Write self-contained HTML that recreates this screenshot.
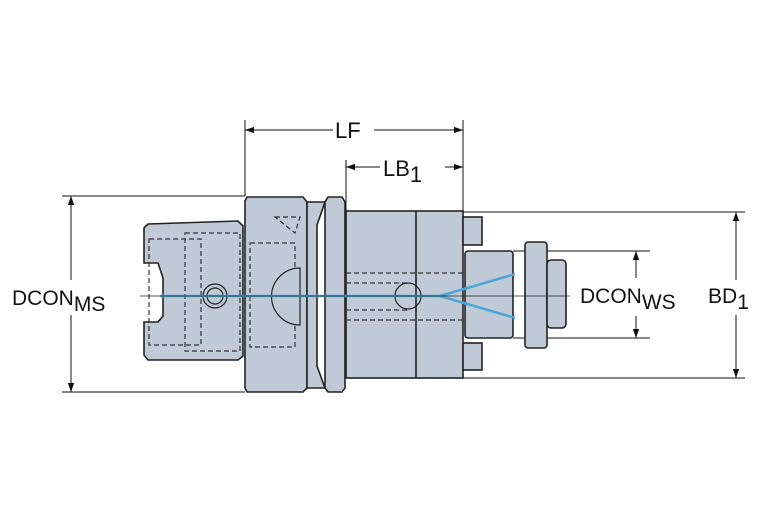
<!DOCTYPE html>
<html><head><style>body{margin:0;background:#fff}svg{display:block}text{font-family:"Liberation Sans",sans-serif;fill:#111}</style></head>
<body>
<svg width="767" height="523" viewBox="0 0 767 523" xmlns="http://www.w3.org/2000/svg">
<defs><marker id="a" viewBox="0 0 10 10" refX="10" refY="5" markerWidth="9" markerHeight="9" orient="auto-start-reverse"><path d="M0,1.5L10,5L0,8.5z" fill="#111"/></marker></defs>
<g stroke="#111" stroke-width="1" fill="none">
<line x1="245" y1="120" x2="245" y2="196"/><line x1="463" y1="120" x2="463" y2="211"/><line x1="346" y1="160" x2="346" y2="211"/>
<line x1="62" y1="196" x2="245" y2="196"/><line x1="62" y1="392" x2="245" y2="392"/>
<line x1="463" y1="212" x2="745" y2="212"/><line x1="463" y1="378" x2="745" y2="378"/>
<line x1="513" y1="251" x2="650" y2="251"/><line x1="513" y1="338" x2="650" y2="338"/>
<line x1="245" y1="130" x2="333" y2="130" marker-start="url(#a)"/><line x1="374" y1="130" x2="463" y2="130" marker-end="url(#a)"/>
<line x1="346" y1="167" x2="380" y2="167" marker-start="url(#a)"/><line x1="445" y1="167" x2="463" y2="167" marker-end="url(#a)"/>
<line x1="71" y1="196" x2="71" y2="280" marker-start="url(#a)"/><line x1="71" y1="315" x2="71" y2="392" marker-end="url(#a)"/>
<line x1="736" y1="212" x2="736" y2="280" marker-start="url(#a)"/><line x1="736" y1="315" x2="736" y2="378" marker-end="url(#a)"/>
<line x1="636" y1="251" x2="636" y2="278" marker-start="url(#a)"/><line x1="636" y1="316" x2="636" y2="338" marker-end="url(#a)"/>
</g>
<g stroke="#222" stroke-width="1.6" fill="#bfcad6">
<path d="M148,224 L238,221 L243,226 L243,356 L238,360 L148,360 L144,355 L144,322 L158,322 L163,316 L163,278 L158,263 L144,263 L144,228 Z"/>
<path d="M247,197 L303,197 L307,202 L307,388 L303,392 L247,392 L245,388 L245,201 Z"/>
<path d="M307,202 L325,202 L317,225 L317,366 L325,388 L307,388 Z"/>
<path d="M328,197 L342,197 L345,202 L345,388 L342,392 L328,392 L325,388 L325,202 Z"/>
<rect x="346" y="211" width="117" height="167"/>
<line x1="416" y1="211" x2="416" y2="378"/>
<rect x="463" y="217" width="19" height="28"/><rect x="463" y="343" width="19" height="27"/>
<rect x="465" y="251" width="48" height="87" rx="3"/>
<rect x="525" y="242" width="22" height="106" rx="3"/>
<rect x="547" y="260" width="19" height="68" rx="4"/>
</g>
<g stroke="#333" stroke-width="1.2" fill="none" stroke-dasharray="5,3">
<rect x="149" y="239" width="52" height="106"/><rect x="185" y="233" width="55" height="118"/>
<rect x="250" y="243" width="45" height="104"/><path d="M275,217 L300,217 L295,233 Z"/>
<path d="M346,273 L463,273 M346,320 L463,320 M346,283 L410,283 M346,310 L410,310"/>
</g>
<g stroke="#222" stroke-width="1.2" fill="#bfcad6">
<circle cx="215" cy="296" r="12"/><circle cx="215" cy="296" r="8"/>
<path d="M300,268 A28,28 0 0,0 300,325 Z"/>
<circle cx="408" cy="296" r="13" fill="none"/>
</g>
<g stroke="#4aa6d8" stroke-width="2.5" fill="none">
<line x1="160" y1="296" x2="440" y2="296"/><line x1="440" y1="296" x2="515" y2="274"/><line x1="440" y1="296" x2="515" y2="318"/>
</g>
<line x1="140" y1="296" x2="570" y2="296" stroke="#222" stroke-width="0.8"/>
<text x="335" y="138" font-size="22">LF</text>
<text x="383" y="176" font-size="22">LB<tspan dy="6">1</tspan></text>
<text x="12" y="305" font-size="21">DCON<tspan dy="6">MS</tspan></text>
<text x="580" y="303" font-size="21">DCON<tspan dy="6">WS</tspan></text>
<text x="708" y="303" font-size="21">BD<tspan dy="6">1</tspan></text>
</svg>
</body></html>
